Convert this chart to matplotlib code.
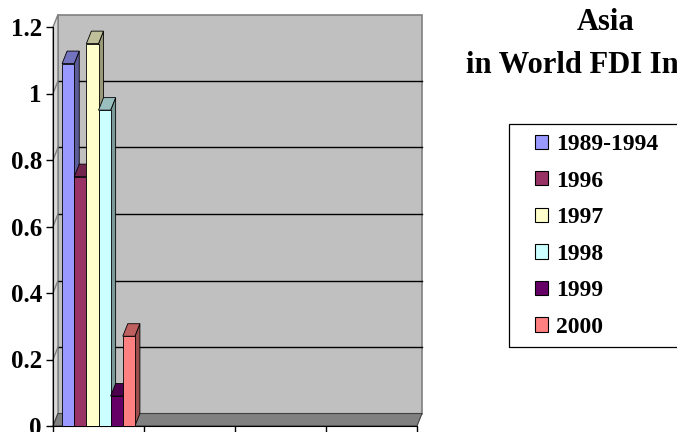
import matplotlib
matplotlib.use("Agg")
import matplotlib.pyplot as plt
from matplotlib.patches import Polygon, Patch, Rectangle
from matplotlib.colors import to_rgb

# data (only the first category group carries values)
series = ["1989-1994", "1996", "1997", "1998", "1999", "2000"]
values = [1.09, 0.75, 1.15, 0.95, 0.09, 0.27]
colors = ["#9999FF", "#993366", "#FFFFCC", "#CCFFFF", "#660066", "#FF8080"]
n_categories = 4
yticks = [0, 0.2, 0.4, 0.6, 0.8, 1.0, 1.2]
ytick_labels = ["0", "0.2", "0.4", "0.6", "0.8", "1", "1.2"]
title = "Asia\nin World FDI Inflows"

plt.rcParams['font.family'] = ['Liberation Serif', 'DejaVu Serif']
plt.rcParams['font.weight'] = 'bold'

W, H = 677, 432
fig = plt.figure(figsize=(W / 100, H / 100), dpi=100)
# plot area in pixels: x 53..417, y(0)=426, y(1.2)=27
ax = fig.add_axes([53 / W, (H - 426) / H, 364 / W, 399 / H])
ymax = 1.2
ax.set_xlim(0, n_categories)
ax.set_ylim(0, ymax)

# depth of the pseudo-3d box, in data units
dx = 5 * n_categories / 364
dy = 12.5 * ymax / 399

def shade(c, f):
    r, g, b = to_rgb(c)
    return (r * f, g * f, b * f)

# back wall, floor, side wall
ax.add_patch(Polygon([(dx, dy), (n_categories + dx, dy), (n_categories + dx, ymax + dy), (dx, ymax + dy)],
                     closed=True, facecolor="#C0C0C0", edgecolor="#808080", lw=1.2, clip_on=False, zorder=0))
ax.add_patch(Polygon([(0, 0), (dx, dy), (dx, ymax + dy), (0, ymax)],
                     closed=True, facecolor="#D8D8D8", edgecolor="#808080", lw=1, clip_on=False, zorder=0))
ax.add_patch(Polygon([(0, 0), (n_categories, 0), (n_categories + dx, dy), (dx, dy)],
                     closed=True, facecolor="#808080", edgecolor="#404040", lw=0.8, clip_on=False, zorder=1))
for y in yticks[1:-1]:
    ax.plot([dx, n_categories + dx], [y + dy, y + dy], color="black", lw=1, clip_on=False, zorder=1)
    ax.plot([0, dx], [y, y + dy], color="#808080", lw=1, clip_on=False, zorder=1)

# bars with top and side faces
group = 0.8
bw = group / len(series)
x0 = (1 - group) / 2
for i, (v, c) in enumerate(zip(values, colors)):
    x = x0 + i * bw
    z = 3 + i * 3
    ax.add_patch(Polygon([(x + bw, 0), (x + bw + dx, dy), (x + bw + dx, v + dy), (x + bw, v)],
                         closed=True, facecolor=shade(c, 0.6), edgecolor="black", lw=0.6, zorder=z))
    ax.add_patch(Polygon([(x, v), (x + bw, v), (x + bw + dx, v + dy), (x + dx, v + dy)],
                         closed=True, facecolor=shade(c, 0.75), edgecolor="black", lw=0.6, clip_on=False, zorder=z + 1))
    ax.bar(x, v, width=bw, align="edge", color=c, edgecolor="black", lw=0.6, zorder=z + 2)

ax.set_yticks(yticks)
ax.set_yticklabels(ytick_labels)
ax.set_xticks(range(n_categories + 1))
ax.set_xticklabels([])
ax.tick_params(axis="y", direction="out", length=5, width=1, labelsize=18, pad=3)
ax.tick_params(axis="x", direction="out", length=5, width=1)
for lab in ax.get_yticklabels():
    lab.set_fontweight("bold")
for s in ["top", "right"]:
    ax.spines[s].set_visible(False)
ax.spines["left"].set_color("black")
ax.spines["bottom"].set_color("black")
ax.patch.set_visible(False)

fig.text(606 / W, 1 - 8 / H, title, ha="center", va="top", fontsize=22, fontweight="bold", linespacing=1.62)

# legend
fig.patches.append(Rectangle((509 / W, (H - 347) / H), 220 / W, 223 / H, transform=fig.transFigure,
                             fill=False, edgecolor="black", lw=0.9))
handles = [Patch(facecolor=c, edgecolor="black", lw=0.8) for c in colors]
fig.legend(handles, series, loc="upper left", bbox_to_anchor=(535 / W, 1 - 134 / H),
           frameon=False, borderpad=0, borderaxespad=0, handlelength=0.55, handleheight=0.55,
           handletextpad=0.35, labelspacing=0.66, prop={"size": 17, "weight": "bold"})

fig.savefig("out.png", dpi=100)
